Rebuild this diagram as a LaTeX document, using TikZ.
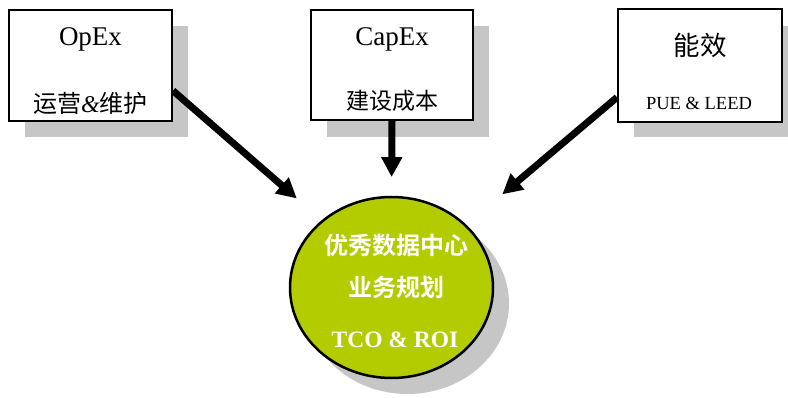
\documentclass[tikz,border=0pt]{standalone}
\usepackage{fontspec}
\setmainfont{Liberation Serif}
\newfontfamily\cjk{Noto Sans CJK SC}[BoldFont={Noto Sans CJK SC Bold}]
\usetikzlibrary{arrows.meta,shapes.geometric,calc}
\definecolor{shadowgray}{HTML}{C6C6C6}
\definecolor{limegreen}{HTML}{B2CC00}
\begin{document}
\begin{tikzpicture}[x=1pt,y=-1pt,
  boxnode/.style={draw=black,line width=2pt,fill=white,inner sep=0pt},
  arr/.style={line width=7pt,-{Triangle[width=20pt,length=20pt]}},
  latin/.style={font=\fontsize{27}{27}\selectfont},
  cjktext/.style={font=\cjk\fontsize{24}{24}\selectfont},
  dctext/.style={text=white,font=\cjk\bfseries\fontsize{24}{24}\selectfont}]
\useasboundingbox (0,0) rectangle (788,398);
% shadows
\fill[shadowgray] (25,26) rectangle (188,137);
\fill[shadowgray] (327,26) rectangle (489,137);
\fill[shadowgray] (634,26) rectangle (798,137);
\fill[shadowgray] (407.5,303.5) ellipse [x radius=101.5pt, y radius=90.5pt];
% boxes
\node[boxnode,minimum width=163pt,minimum height=111pt] (opex) at (90.5,65.5) {};
\node[boxnode,minimum width=162pt,minimum height=110pt] (capex) at (392,65) {};
\node[boxnode,minimum width=164pt,minimum height=113pt] (eff) at (700,65.5) {};
\node[draw=black,line width=2.5pt,fill=limegreen,ellipse,minimum width=203pt,minimum height=181pt,inner sep=0pt] (dc) at (391.5,287.5) {};
% texts
\node[latin] (opexT) at (90.5,39) {OpEx};
\node[cjktext] (opexC) at (90.5,103) {运营{\rmfamily\itshape\&}维护};
\node[latin] (capexT) at (392,39) {CapEx};
\node[font=\cjk\fontsize{23}{23}\selectfont] (capexC) at (392,101) {建设成本};
\node[font=\cjk\fontsize{26.5}{26.5}\selectfont] (effT) at (700,45) {能效};
\node[font=\fontsize{18.5}{18.5}\selectfont] (effL) at (699,103) {PUE \& LEED};
\node[dctext] (dc1) at (396,245) {优秀数据中心};
\node[dctext] (dc2) at (396,287) {业务规划};
\node[text=white,font=\bfseries\fontsize{23.5}{23.5}\selectfont] (dc3) at (395,340) {TCO \& ROI};
% arrows
\draw[arr,shorten >=33pt] (opex.-17) -- (dc.136);
\draw[arr] (capex.south) -- ($(capex.south)!0.75!(dc.north)$) coordinate (mtip);
\draw[arr,shorten >=47pt] (eff.201) -- (dc.40);
\end{tikzpicture}
\end{document}
